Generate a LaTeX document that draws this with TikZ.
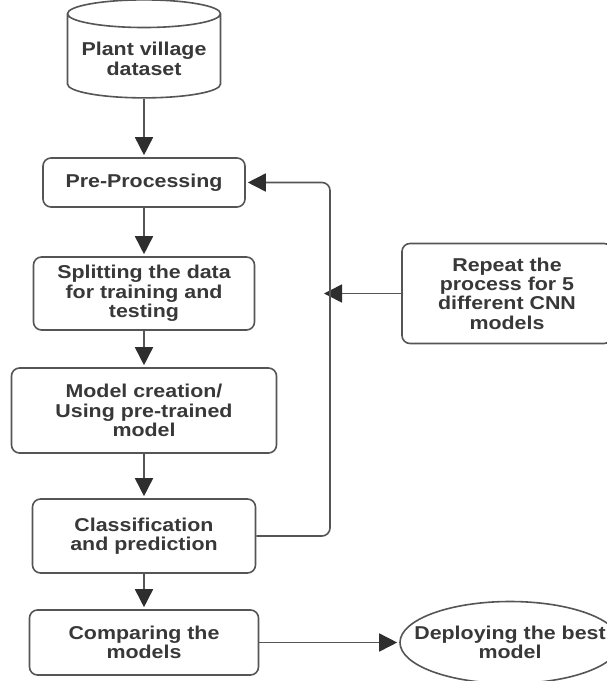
\documentclass[tikz,border=0pt]{standalone}
\usepackage{fontspec}
\setmainfont{Liberation Sans}[FakeStretch=1.15]
\usetikzlibrary{shapes.geometric,positioning,arrows.meta}
\definecolor{linegray}{HTML}{555555}
\definecolor{arrowgray}{HTML}{2E2E2E}
\definecolor{textgray}{HTML}{383838}

\begin{document}
\begin{tikzpicture}[shorten >=1pt,node distance=2cm,on grid,auto,
  >={Triangle[length=9pt,width=9pt,color=arrowgray]},
  every node/.style={font=\bfseries\fontsize{9.3}{9.7}\selectfont,text=textgray,align=center},
  stage/.style={draw=linegray,line width=0.8pt,rounded corners=4pt,inner sep=2pt},
  store/.style={draw=linegray,line width=0.8pt,cylinder,shape border rotate=90,aspect=0.2},
  goal/.style={draw=linegray,line width=0.8pt,ellipse,inner xsep=-9.5pt,inner ysep=0pt}]
  \useasboundingbox[fill=white] (0,0) rectangle (303pt,-340.5pt);
  \node[store,minimum width=76.5pt,minimum height=49pt] (data) at (72pt,-29.5pt) {Plant village\\dataset};
  \node[stage,minimum width=101pt,minimum height=24.5pt] (pre) [below = 61.75pt of data] {Pre-Processing};
  \node[stage,minimum width=110.5pt,minimum height=36.5pt] (split) [below = 55.5pt of pre] {Splitting the data\\for training and\\testing};
  \node[stage,minimum width=132.5pt,minimum height=42.5pt] (model) [below = 58.5pt of split] {Model creation/\\Using pre-trained\\model};
  \node[stage,minimum width=111.5pt,minimum height=37pt] (classify) [below = 62.75pt of model] {Classification\\and prediction};
  \node[stage,minimum width=114.5pt,minimum height=32.5pt] (compare) [below = 53.25pt of classify] {Comparing the\\models};
  \node[stage,minimum width=105pt,minimum height=50pt] (rep) [right = 181.5pt of split] {Repeat the\\process for 5\\different CNN\\models};
  \node[goal,minimum width=110pt,minimum height=41pt] (deploy) [right = 183pt of compare] {Deploying the best\\model};
  \coordinate (bus) at ([xshift=93pt]split.center);
  \path[->,draw=linegray,line width=0.8pt]
  (data) edge (pre)
  (pre) edge (split)
  (split) edge (model)
  (model) edge (classify)
  (classify) edge (compare)
  (compare) edge (deploy)
  (rep) edge[shorten >=-3pt] (rep.west -| bus)
  ;
  \draw[->,draw=linegray,line width=0.8pt,rounded corners=4pt]
  (classify.east) -| (bus) |- (pre.east);
\end{tikzpicture}
\end{document}
